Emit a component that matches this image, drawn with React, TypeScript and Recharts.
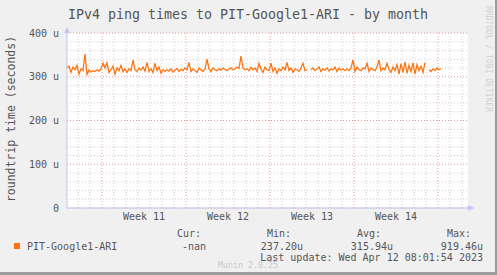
import React from "react";
import { LineChart, Line, XAxis, YAxis, CartesianGrid } from "recharts";

const chartTitle = "IPv4 ping times to PIT-Google1-ARI - by month";
const yAxisLabel = "roundtrip time (seconds)";
const seriesName = "PIT-Google1-ARI";
const seriesColor = "#ff7410";

// roundtrip time in microseconds, one sample every 4 hours (null = no data)
const pingMicros: (number | null)[] = [
  320, 324, 310, 322, 316, 326, 306, 318, 314, 352,
  305, 315, 311, 314, 312, 316, 313, 318, 331, 320,
  332, 310, 316, 324, 306, 320, 314, 326, 312, 318,
  310, 318, 314, 338, 316, 312, 320, 315, 322, 313,
  333, 312, 318, 310, 331, 314, 322, 308, 316, 312,
  316, 313, 318, 311, 315, 319, 312, 317, 314, 320,
  316, 333, 312, 318, 314, 310, 320, 316, 312, 318,
  340, 318, 312, 320, 316, 314, 318, 315, 320, 317,
  314, 318, 320, 316, 318, 322, 319, 347, 320, 316,
  318, 314, 322, 316, 320, 312, 331, 318, 310, 322,
  316, 314, 331, 312, 320, 308, 318, 314, 322, 316,
  333, 314, 320, 310, 318, 316, 312, 320, 331, 314,
  316, null, 316, 320, 314, 318, 322, 312, 318, 315,
  320, 313, 318, 316, 322, 312, 320, 315, 318, 314,
  318, 314, 320, 338, 312, 322, 316, 314, 320, 318,
  331, 312, 320, 316, 314, 322, 338, 314, 320, 316,
  331, 316, 310, 322, 314, 328, 306, 330, 310, 334,
  308, 326, 312, 332, 306, 328, 314, 324, 310, 333,
  null, 316, 312, 318, 314, 320, 316, 318,
];
const hoursPerSample = 4;
const rangeHours = 802;

const weekLabels = ["Week 11", "Week 12", "Week 13", "Week 14"];
const weekLabelHours = [154, 322, 490, 658];
const weekStartHours = [70, 238, 406, 574, 742];
const dayHours = [22, 46, 94, 118, 142, 166, 190, 214, 262, 286, 310, 334, 358, 382, 430, 454, 478, 502, 526, 550, 598, 622, 646, 670, 694, 718, 766, 790];

const yTicks = [0, 100, 200, 300, 400];
const yMinorTicks = [20, 40, 60, 80, 120, 140, 160, 180, 220, 240, 260, 280, 320, 340, 360, 380];

const legendHeaders = ["Cur:", "Min:", "Avg:", "Max:"];
const legendValues = ["-nan", "237.20u", "315.94u", "919.46u"];
const lastUpdate = "Last update: Wed Apr 12 08:01:54 2023";
const footer = "Munin 2.0.25";
const sideNote = "RRDTOOL / TOBI OETIKER";

const tableData = pingMicros.map((v, i) => ({ hour: i * hoursPerSample, rtt: v }));

const mono = "'DejaVu Sans Mono', monospace";
const textGrey = "#555";
const axisBlue = "#c4c4f4";

const headerX = [177, 267, 357, 447];
const valueRight = [206, 303, 393, 483];

export default function App() {
  return (
    <div style={{ position: "absolute", left: 0, top: 0, width: 497, height: 275, background: "#f0f0f0", overflow: "hidden" }}>
      <div style={{ position: "absolute", left: 0, top: 0 }}>
        <LineChart width={497} height={275} data={tableData} margin={{ top: 33, right: 29, bottom: 47, left: 0 }}>
          <CartesianGrid
            fill="#ffffff"
            stroke="#cfcfcf"
            strokeDasharray="1 2"
            horizontalValues={yMinorTicks}
            verticalValues={dayHours}
          />
          <CartesianGrid
            stroke="#e89a9a"
            strokeDasharray="1 2"
            horizontalValues={yTicks}
            verticalValues={weekStartHours}
          />
          <XAxis
            dataKey="hour"
            type="number"
            domain={[0, rangeHours]}
            ticks={weekLabelHours}
            interval={0}
            tickFormatter={(v: number) => weekLabels[weekLabelHours.indexOf(v)] ?? ""}
            tickLine={false}
            tickSize={0}
            tickMargin={5}
            height={20}
            axisLine={{ stroke: axisBlue }}
            tick={{ fill: textGrey, fontSize: 10, fontFamily: mono }}
          />
          <YAxis
            type="number"
            domain={[0, 400]}
            ticks={yTicks}
            interval={0}
            width={67}
            tickFormatter={(v: number) => (v === 0 ? "0" : `${v} u`)}
            tickLine={false}
            tickSize={0}
            tickMargin={8}
            axisLine={{ stroke: axisBlue }}
            tick={{ fill: textGrey, fontSize: 10, fontFamily: mono }}
          />
          <Line
            dataKey="rtt"
            type="linear"
            stroke={seriesColor}
            strokeWidth={1.3}
            dot={false}
            activeDot={false}
            connectNulls={false}
            isAnimationActive={false}
          />
        </LineChart>
      </div>
      <svg width={497} height={275} style={{ position: "absolute", left: 0, top: 0, pointerEvents: "none" }}>
        <polygon points="64,33 70,33 67,27" fill={axisBlue} />
        <polygon points="468,205 468,211 474,208" fill={axisBlue} />
        <text x={248} y={14} textAnchor="middle" dominantBaseline="central" fontFamily={mono} fontSize={13.3} fill={textGrey}>
          {chartTitle}
        </text>
        <text
          x={11}
          y={119}
          textAnchor="middle"
          dominantBaseline="central"
          fontFamily={mono}
          fontSize={11.5}
          fill={textGrey}
          transform="rotate(-90 11 119)"
        >
          {yAxisLabel}
        </text>
        <text
          x={488}
          y={59}
          textAnchor="middle"
          dominantBaseline="central"
          fontFamily={mono}
          fontSize={8}
          fill="#d0d0d0"
          transform="rotate(90 488 59)"
        >
          {sideNote}
        </text>
        {legendHeaders.map((h, i) => (
          <text key={h} x={headerX[i]} y={233} dominantBaseline="central" fontFamily={mono} fontSize={10} fill={textGrey}>
            {h}
          </text>
        ))}
        <rect x={14} y={243} width={6} height={6} fill={seriesColor} />
        <text x={27} y={246} dominantBaseline="central" fontFamily={mono} fontSize={10} fill={textGrey}>
          {seriesName}
        </text>
        {legendValues.map((v, i) => (
          <text key={v} x={valueRight[i]} y={246} textAnchor="end" dominantBaseline="central" fontFamily={mono} fontSize={10} fill={textGrey}>
            {v}
          </text>
        ))}
        <text x={483} y={257} textAnchor="end" dominantBaseline="central" fontFamily={mono} fontSize={10} fill={textGrey}>
          {lastUpdate}
        </text>
        <text x={248} y={265} textAnchor="middle" dominantBaseline="central" fontFamily={mono} fontSize={8.3} fill="#c8c8c8">
          {footer}
        </text>
      </svg>
      <div style={{ position: "absolute", right: 0, top: 0, width: 2, height: 275, background: "#9c9c9c" }} />
      <div style={{ position: "absolute", left: 0, bottom: 0, width: 497, height: 3, background: "#9c9c9c" }} />
    </div>
  );
}
